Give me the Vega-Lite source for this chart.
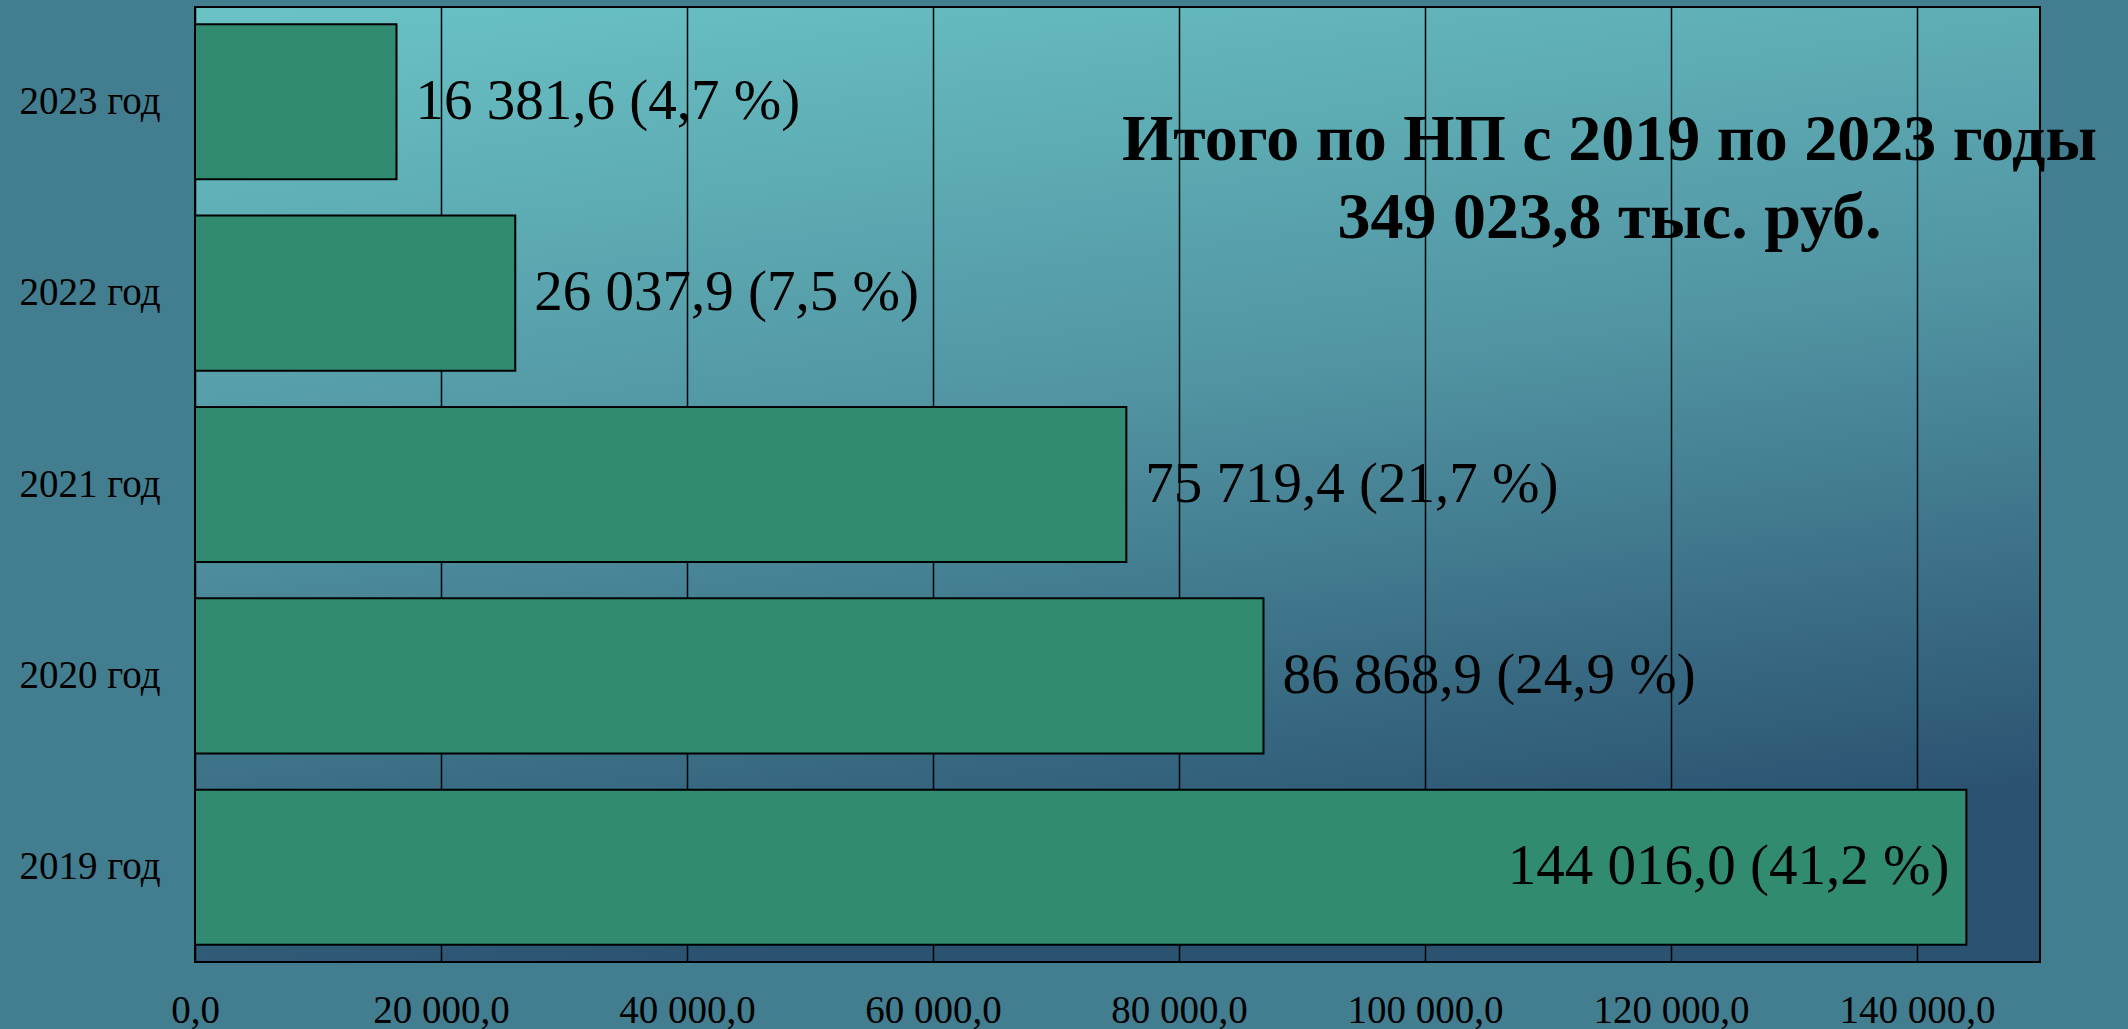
{
  "$schema": "https://vega.github.io/schema/vega-lite/v6.json",
  "width": 1845,
  "height": 955,
  "autosize": {"type": "none"},
  "padding": {"left": 195, "top": 7, "right": 88, "bottom": 67},
  "background": "#427e90",
  "config": {
    "locale": {"number": {"decimal": ",", "thousands": " ", "grouping": [3], "currency": ["", ""]}},
    "view": {
      "stroke": "black",
      "strokeWidth": 2,
      "fill": {
        "gradient": "linear", "x1": 0, "y1": 0, "x2": 0.25, "y2": 1,
        "stops": [
          {"offset": 0, "color": "#6ac3c5"},
          {"offset": 0.5, "color": "#5194a2"},
          {"offset": 1, "color": "#2b5371"}
        ]
      }
    },
    "font": "Liberation Serif"
  },
  "layer": [
    {
      "data": {
        "values": [
          {"year": "2023 год", "value": 16381.6, "pct": 4.7, "label": "16 381,6  (4,7 %)"},
          {"year": "2022 год", "value": 26037.9, "pct": 7.5, "label": "26 037,9 (7,5 %)"},
          {"year": "2021 год", "value": 75719.4, "pct": 21.7, "label": "75 719,4 (21,7 %)"},
          {"year": "2020 год", "value": 86868.9, "pct": 24.9, "label": "86 868,9 (24,9 %)"},
          {"year": "2019 год", "value": 144016.0, "pct": 41.2, "label": "144 016,0 (41,2 %)"}
        ]
      },
      "encoding": {
        "y": {
          "field": "year", "type": "nominal",
          "scale": {"domain": ["2023 год", "2022 год", "2021 год", "2020 год", "2019 год"], "paddingInner": 0.19, "paddingOuter": 0.09},
          "axis": {
            "title": null, "ticks": false, "domain": false, "grid": false,
            "labelFontSize": 39, "labelPadding": 35, "labelColor": "black",
            "labelFont": "Liberation Serif"
          }
        },
        "x": {
          "field": "value", "type": "quantitative",
          "scale": {"domain": [0, 150000], "nice": false},
          "axis": {
            "title": null,
            "values": [0, 20000, 40000, 60000, 80000, 100000, 120000, 140000],
            "format": ",.1f",
            "grid": true, "gridColor": "black", "gridWidth": 1.5, "gridOpacity": 1,
            "ticks": false, "domain": false,
            "labelFontSize": 39, "labelPadding": 29, "labelColor": "black",
            "labelFont": "Liberation Serif", "labelFlush": false, "labelOverlap": false
          }
        }
      },
      "layer": [
        {
          "mark": {"type": "bar", "fill": "#308b71", "stroke": "black", "strokeWidth": 2}
        },
        {
          "transform": [{"filter": "datum.value < 140000"}],
          "mark": {"type": "text", "align": "left", "baseline": "middle", "dx": 19, "fontSize": 57, "color": "black"},
          "encoding": {"text": {"field": "label"}}
        },
        {
          "transform": [{"filter": "datum.value >= 140000"}],
          "mark": {"type": "text", "align": "right", "baseline": "middle", "dx": -17, "fontSize": 57, "color": "black"},
          "encoding": {"text": {"field": "label"}}
        }
      ]
    },
    {
      "data": {"values": [{"line": "Итого по НП с 2019 по 2023 годы", "row": "2023 год", "at": 115000}]},
      "mark": {
        "type": "text", "align": "center", "baseline": "alphabetic", "dy": 58,
        "fontSize": 66, "fontWeight": "bold", "color": "black"
      },
      "encoding": {
        "x": {"field": "at", "type": "quantitative"},
        "y": {"field": "row", "type": "nominal", "scale": {"domain": ["2023 год", "2022 год", "2021 год", "2020 год", "2019 год"]}},
        "text": {"field": "line"}
      }
    },
    {
      "data": {"values": [{"line": "349 023,8 тыс. руб.", "row": "2023 год", "at": 115000}]},
      "mark": {
        "type": "text", "align": "center", "baseline": "alphabetic", "dy": 136,
        "fontSize": 66, "fontWeight": "bold", "color": "black"
      },
      "encoding": {
        "x": {"field": "at", "type": "quantitative"},
        "y": {"field": "row", "type": "nominal", "scale": {"domain": ["2023 год", "2022 год", "2021 год", "2020 год", "2019 год"]}},
        "text": {"field": "line"}
      }
    }
  ]
}
